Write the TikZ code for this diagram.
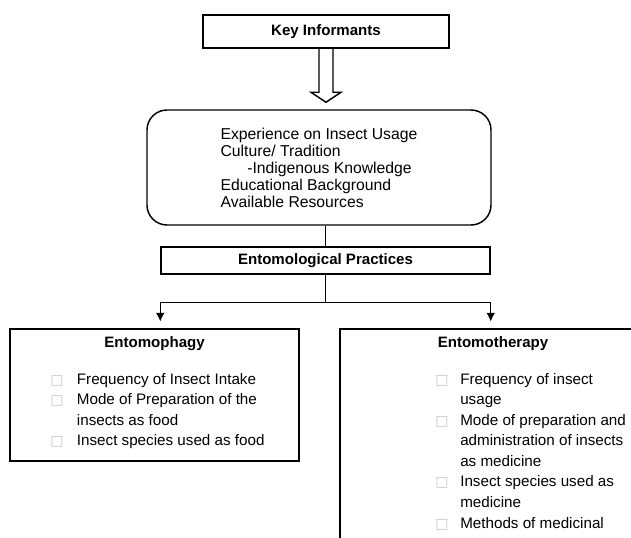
\documentclass[tikz,border=0pt]{standalone}
\usepackage{fontspec}
\setmainfont{Liberation Sans}
\newfontfamily\boxglyph{DejaVu Sans}
\usepackage{tikz}
\usetikzlibrary{shapes,arrows,arrows.meta,calc,positioning}
\tikzstyle{block} = [rectangle, draw, line width=1.1pt, inner sep=0pt,
    font=\fontsize{11.3}{13.6}\selectfont\bfseries]
\tikzstyle{frame} = [rectangle, draw, line width=1.1pt, rounded corners=15pt,
    align=left, font=\fontsize{11.8}{12.75}\selectfont]
\tikzstyle{panel} = [rectangle, draw, line width=1.1pt, inner sep=0pt]
\tikzstyle{title} = [inner sep=0pt, font=\fontsize{11.3}{13.6}\selectfont\bfseries]
\tikzstyle{items} = [align=left, inner sep=0pt, font=\fontsize{11.4}{15.4}\selectfont]
\tikzstyle{line} = [draw, line width=1.1pt, -{Latex[length=6.5pt,width=6.5pt]}]
\tikzstyle{hollow} = [draw, line width=1.1pt, line join=miter]
\newcommand{\bul}[1][20pt]{\makebox[#1][l]{{\boxglyph\fontsize{10.5}{10}\selectfont\color{gray!45}□}}}
\newcommand{\cont}[1][20pt]{\hspace*{#1}}

\begin{document}
\begin{tikzpicture}[x=0.75pt, y=-0.75pt]
  \useasboundingbox (0,0) rectangle (631,538);
  \clip (0,0) rectangle (631,538);
  \node [block, minimum width=184.5pt, minimum height=24.75pt] (ki) at (326,31.5) {Key Informants};
  \node [frame, minimum width=258pt, minimum height=86.25pt] (ctx) at (319,167.5) {Experience on Insect Usage\\
    Culture/ Tradition\\
    \hspace*{20pt}-Indigenous Knowledge\\
    Educational Background\\
    Available Resources};
  \node [block, minimum width=246.75pt, minimum height=20.25pt] (ep) at (325.5,260.5) {Entomological Practices};
  \node [panel, minimum width=216.75pt, minimum height=99pt] (phagy) at (154.5,395) {};
  \node [panel, minimum width=229.5pt, minimum height=187.5pt] (therapy) at (493,454) {};
  % titles and lists inside the two panels
  \node [title, anchor=base] (phagyt) at ($(phagy.north)+(0,19.5)$) {Entomophagy};
  \node [title, anchor=base] (therapyt) at ($(therapy.north)+(0,19.5)$) {Entomotherapy};
  \node [items, anchor=north west] (phagyl) at (50,373) {\bul Frequency of Insect Intake\\
    \bul Mode of Preparation of the\\
    \cont insects as food\\
    \bul Insect species used as food};
  \node [items, anchor=north west] (therapyl) at (435,373) {\bul[18.75pt]Frequency of insect\\
    \cont[18.75pt]usage\\
    \bul[18.75pt]Mode of preparation and\\
    \cont[18.75pt]administration of insects\\
    \cont[18.75pt]as medicine\\
    \bul[18.75pt]Insect species used as\\
    \cont[18.75pt]medicine\\
    \bul[18.75pt]Methods of medicinal};
  % connectors
  \coordinate (tip) at ($(ki.south |- ctx.north)+(0,-7)$);
  \path [hollow] ($(ki.south)+(-7,0)$) |- ($(tip)+(-15,-10)$) -- (tip)
    -- ($(tip)+(15,-10)$) -| ($(ki.south)+(7,0)$);
  \path [draw, line width=1.1pt] (ep.north |- ctx.south) -- (ep.north);
  \coordinate (fork) at ($(ep.south)+(0,28)$);
  \path [draw, line width=1.1pt] (ep.south) -- (fork);
  \path [line, shorten >=5pt] (fork) -| (ep.west |- phagy.north);
  \path [line, shorten >=5pt] (fork) -| (ep.east |- therapy.north);
\end{tikzpicture}
\end{document}
